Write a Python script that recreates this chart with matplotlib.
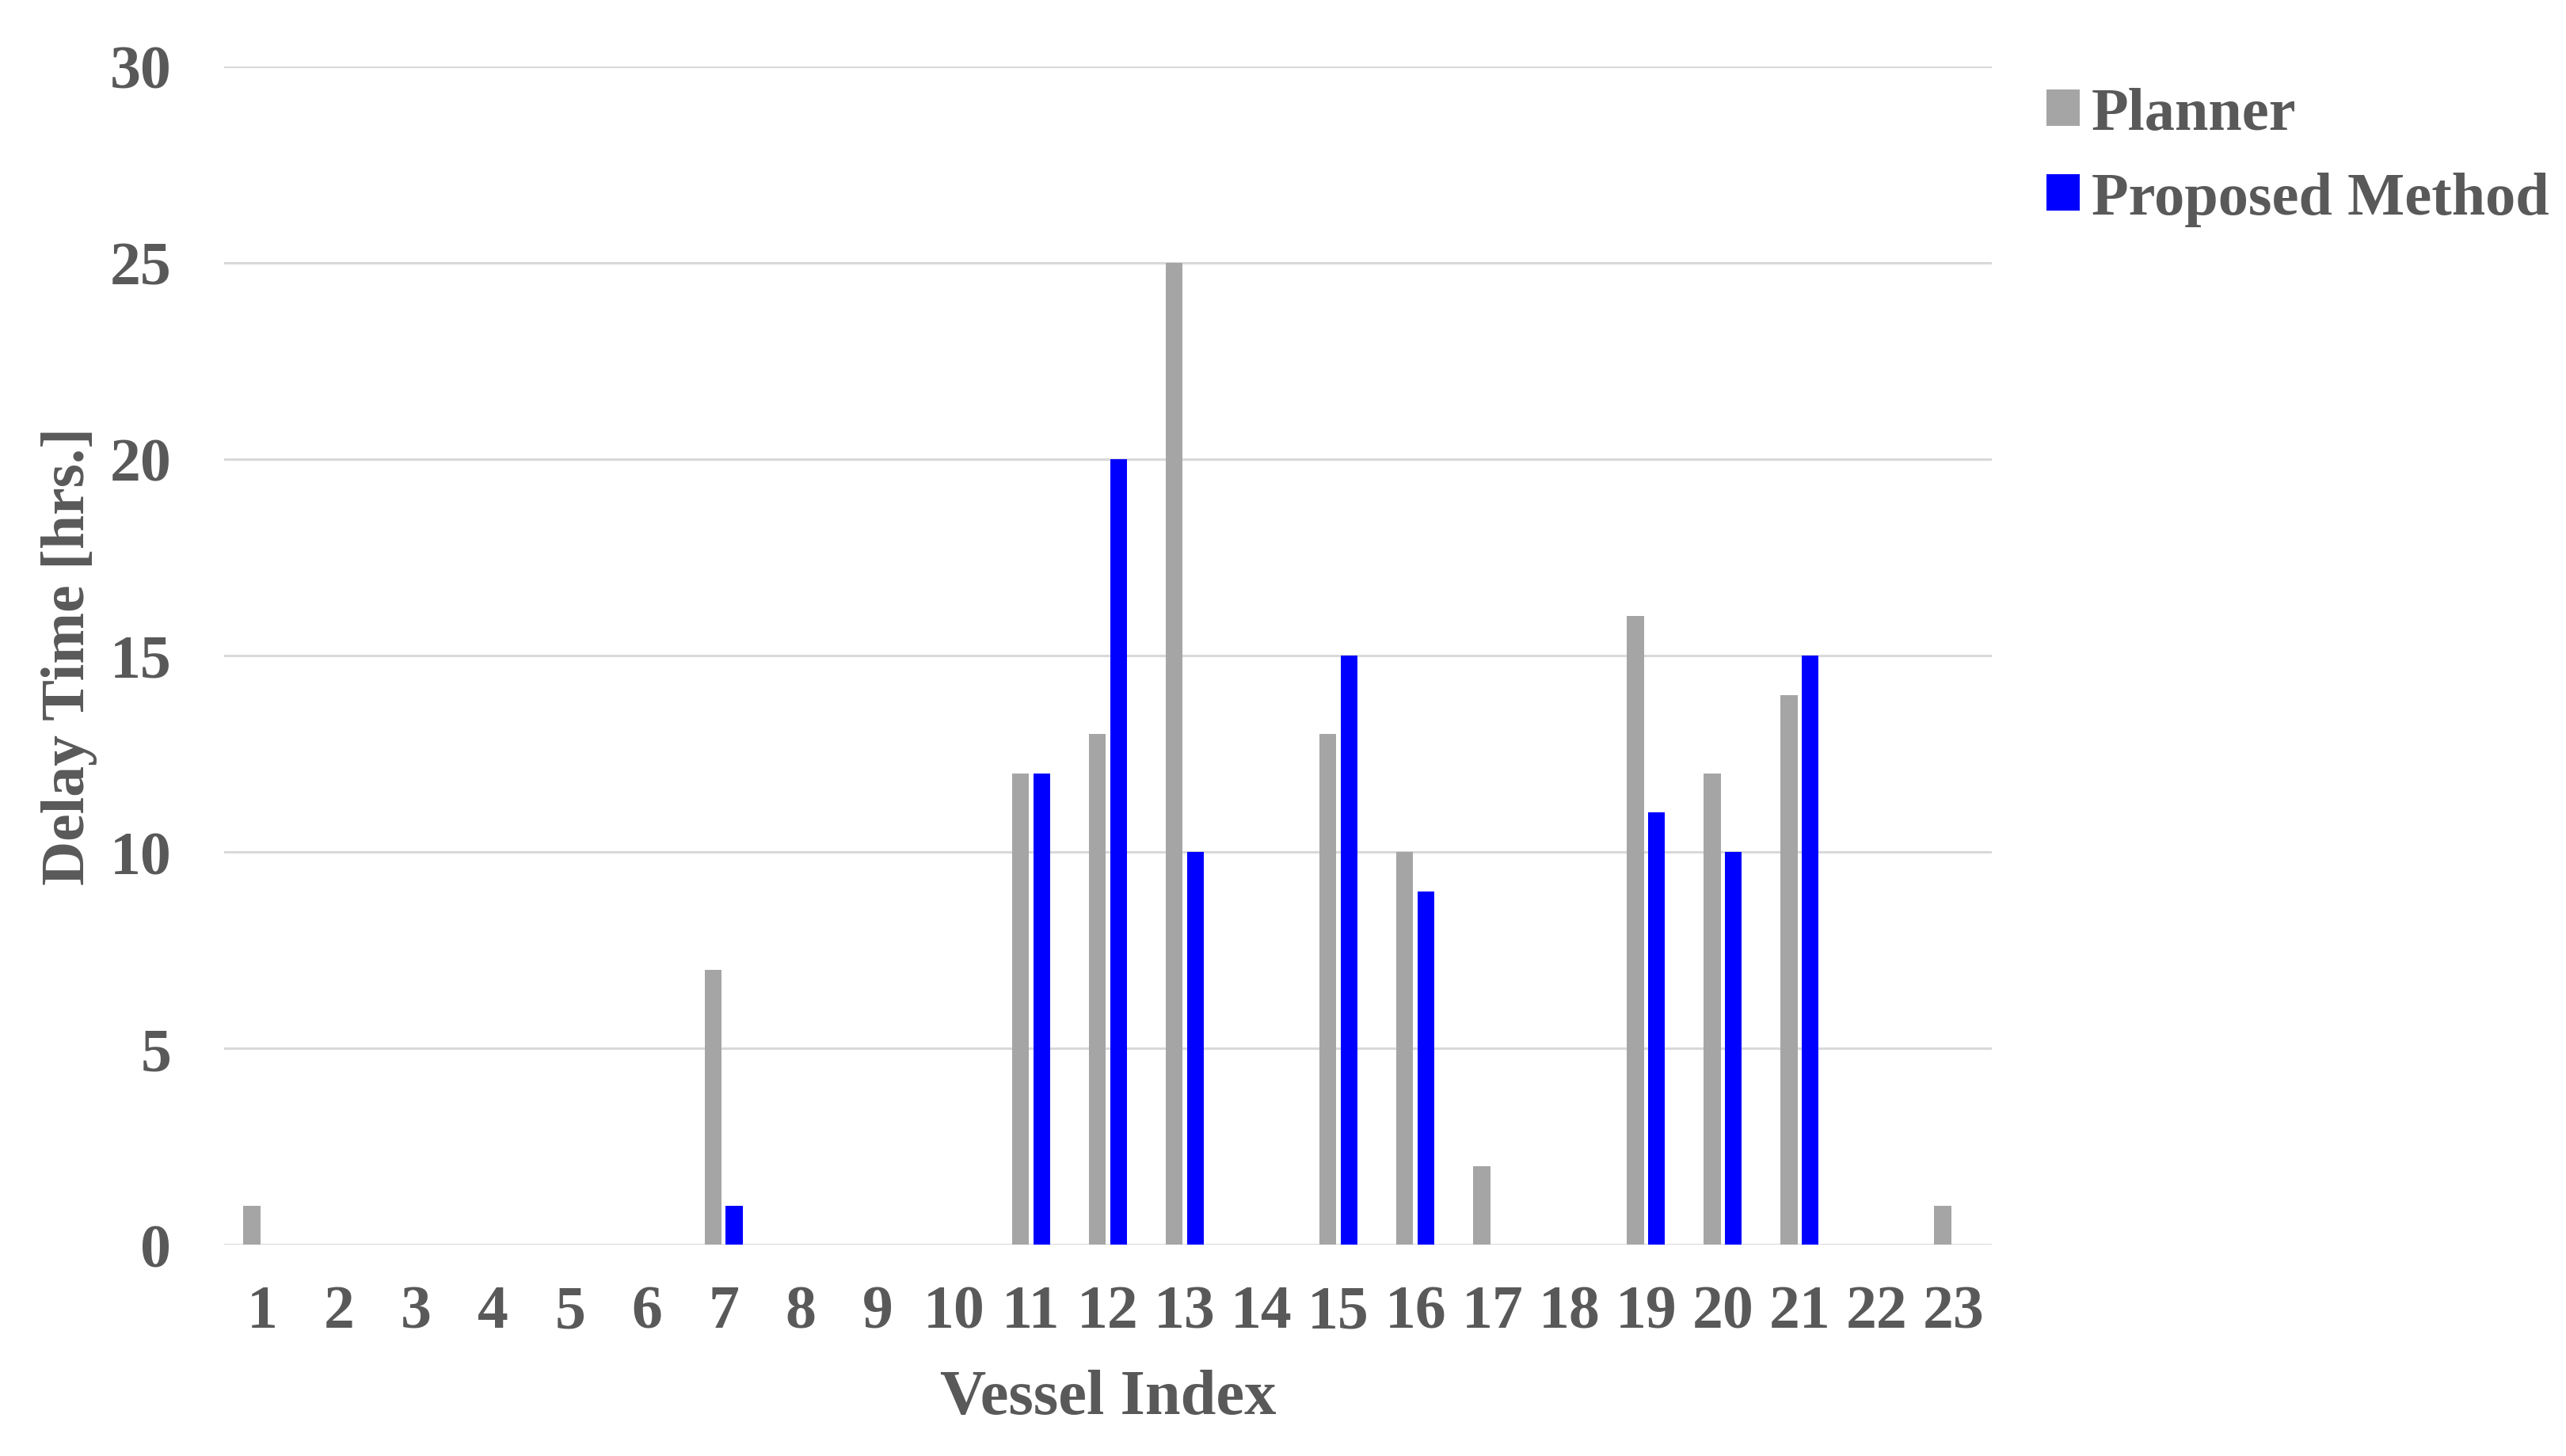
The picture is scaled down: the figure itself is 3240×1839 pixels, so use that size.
import numpy as np
import matplotlib
matplotlib.use("Agg")
from matplotlib import pyplot as plt

# data
vessels = [str(i) for i in range(1, 24)]
planner = [1, 0, 0, 0, 0, 0, 7, 0, 0, 0, 12, 13, 25, 0, 13, 10, 2, 0, 16, 12, 14, 0, 1]
proposed = [0, 0, 0, 0, 0, 0, 1, 0, 0, 0, 12, 20, 10, 0, 15, 9, 0, 0, 11, 10, 15, 0, 0]
yticks = [0, 5, 10, 15, 20, 25, 30]

txt = "#595959"
plt.rcParams['font.family'] = ['Liberation Serif', 'DejaVu Serif']
plt.rcParams['font.weight'] = 'bold'
plt.rcParams['axes.labelweight'] = 'bold'

fig = plt.figure(figsize=(32.41, 18.40), dpi=100)
ax = fig.add_axes([0.0873, 0.145, 0.776 - 0.0873, 0.954 - 0.145])

x = np.arange(len(vessels))
w = 0.22
ax.bar(x - 0.1375, planner, w, color="#a5a5a5", label="Planner", zorder=3)
ax.bar(x + 0.1375, proposed, w, color="#0000ff", label="Proposed Method", zorder=3)

ax.set_xlim(-0.5, len(vessels) - 0.5)
ax.set_ylim(0, 30)
ax.set_yticks(yticks)
ax.set_xticks(x)
ax.set_xticklabels(vessels)
ax.grid(axis="y", color="#d9d9d9", linewidth=2.2, zorder=0)
ax.set_axisbelow(True)
for s in ax.spines.values():
    s.set_visible(False)
ax.tick_params(axis="both", length=0, labelsize=56, labelcolor=txt)
ax.tick_params(axis="y", pad=48)
ax.tick_params(axis="x", pad=36)

ax.set_xlabel("Vessel Index", fontsize=58, color=txt, labelpad=26)
ax.set_ylabel("Delay Time [hrs.]", fontsize=56, color=txt, labelpad=11)

fig.legend(loc="upper left", bbox_to_anchor=(0.776, 0.977), frameon=False,
           fontsize=55, labelcolor=txt, handlelength=0.55, handleheight=0.55,
           handletextpad=0.2, labelspacing=0.5)

fig.savefig("out.png", dpi=100, facecolor="white")
